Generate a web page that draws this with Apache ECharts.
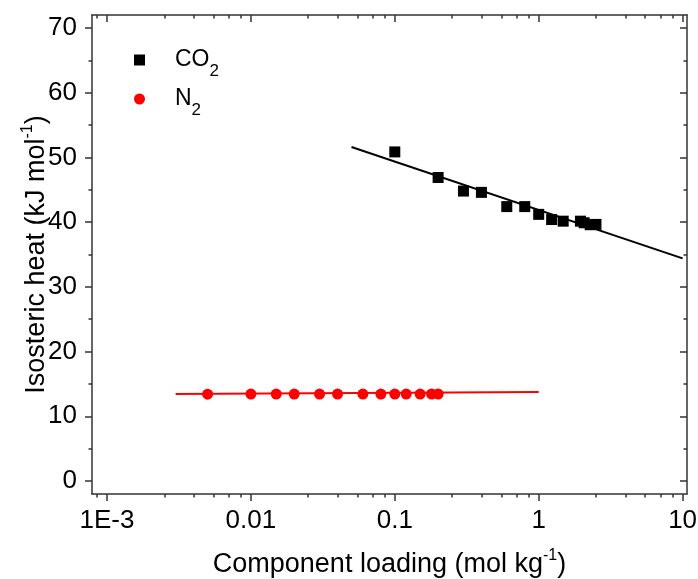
<!DOCTYPE html>
<html><head><meta charset="utf-8">
<script src="https://cdn.jsdelivr.net/npm/echarts@6/dist/echarts.min.js"></script>
<style>html,body{margin:0;padding:0;background:#fff}#c{width:698px;height:579px}</style>
</head><body><div id="c"></div>
<script>
// ---- data ----
const co2Loading = [0.1, 0.2, 0.3, 0.4, 0.6, 0.8, 1.0, 1.23, 1.48, 1.95, 2.07, 2.28, 2.5];
const co2Heat    = [50.85, 46.9, 44.8, 44.6, 42.4, 42.4, 41.2, 40.4, 40.15, 40.15, 39.9, 39.6, 39.65];
const n2Loading  = [0.005, 0.01, 0.015, 0.02, 0.03, 0.04, 0.06, 0.08, 0.1, 0.12, 0.15, 0.18, 0.2];
const n2Heat     = [13.42, 13.43, 13.43, 13.43, 13.43, 13.43, 13.43, 13.43, 13.44, 13.44, 13.44, 13.45, 13.45];
const co2FitLoading = [0.05, 10];
const co2FitHeat    = [51.6, 34.4];
const n2FitLoading  = [0.003, 1];
const n2FitHeat     = [13.45, 13.75];

const xTickValues = [0.001, 0.01, 0.1, 1, 10];
const xTickLabels = ['1E-3', '0.01', '0.1', '1', '10'];
const xMinorTicks = [0.00085,
  0.0025, 0.004, 0.0055, 0.007, 0.0085,
  0.025, 0.04, 0.055, 0.07, 0.085,
  0.25, 0.4, 0.55, 0.7, 0.85,
  2.5, 4, 5.5, 7, 8.5];
const yTickValues = [0, 10, 20, 30, 40, 50, 60, 70];
const yMinorTicks = [5, 15, 25, 35, 45, 55, 65];
const xMin = 0.0007866, xMax = 10.73;
const yMin = -2, yMax = 72;

// ---- chart ----
const FONT = 'Liberation Sans';
const lineCol = '#333';
const axLine = { show: true, onZero: false, lineStyle: { color: lineCol, width: 1.5 } };
const noLine = { show: false, onZero: false };
const tickStyle = { color: lineCol, width: 1.5 };

function xLabelFmt(v) {
  const i = xTickValues.findIndex(t => Math.abs(Math.log10(t) - Math.log10(v)) < 1e-6);
  return i >= 0 ? xTickLabels[i] : '';
}

function zip(a, b) { return a.map((v, i) => [v, b[i]]); }

const chart = echarts.init(document.getElementById('c'), null, { renderer: 'canvas' });
const supRich = { p: { fontSize: 16, fontFamily: FONT, color: '#000', verticalAlign: 'top', lineHeight: 34 } };
const subRich = { s: { fontSize: 17, fontFamily: FONT, color: '#000', verticalAlign: 'bottom', lineHeight: 40 } };

const baseX = { type: 'log', logBase: 10, min: xMin, max: xMax, gridIndex: 0,
  splitLine: { show: false }, minorTick: { show: false }, minorSplitLine: { show: false } };
const baseY = { type: 'value', min: yMin, max: yMax, gridIndex: 0,
  splitLine: { show: false }, minorTick: { show: false } };

chart.setOption({
  animation: false,
  backgroundColor: '#fff',
  grid: { left: 92, right: 11, top: 15, bottom: 85, containLabel: false, outerBoundsMode: 'none' },
  legend: {
    orient: 'vertical', left: 134, top: 40, padding: 0, itemWidth: 11, itemHeight: 11, itemGap: -1,
    data: [{ name: 'CO2', icon: 'rect' }, { name: 'N2', icon: 'circle' }],
    formatter: n => n === 'CO2' ? 'CO{s|2}' : 'N{s|2}',
    textStyle: { fontSize: 23, fontFamily: FONT, color: '#000', lineHeight: 24, padding: [0, 0, 0, 25], rich: subRich },
    selectedMode: false
  },
  xAxis: [
    Object.assign({}, baseX, { position: 'bottom', axisLine: axLine,
      axisTick: { show: true, inside: false, length: 7, customValues: xTickValues, lineStyle: tickStyle },
      axisLabel: { show: true, customValues: xTickValues, formatter: xLabelFmt, fontSize: 26, fontFamily: FONT, color: '#000', margin: 14 },
      name: 'Component loading (mol kg{p|-1})', nameLocation: 'middle', nameGap: 54, nameMoveOverlap: false,
      nameTextStyle: { fontSize: 27, fontFamily: FONT, color: '#000', lineHeight: 27, rich: supRich } }),
    Object.assign({}, baseX, { position: 'bottom', axisLine: noLine,
      axisTick: { show: true, inside: false, length: 3.5, customValues: xMinorTicks, lineStyle: tickStyle },
      axisLabel: { show: false } }),
    Object.assign({}, baseX, { position: 'top', axisLine: axLine,
      axisTick: { show: true, inside: true, length: 7, customValues: xTickValues, lineStyle: tickStyle },
      axisLabel: { show: false } }),
    Object.assign({}, baseX, { position: 'top', axisLine: noLine,
      axisTick: { show: true, inside: true, length: 3.5, customValues: xMinorTicks, lineStyle: tickStyle },
      axisLabel: { show: false } })
  ],
  yAxis: [
    Object.assign({}, baseY, { position: 'left', axisLine: axLine,
      axisTick: { show: true, inside: false, length: 7, customValues: yTickValues, lineStyle: tickStyle },
      axisLabel: { show: true, customValues: yTickValues, fontSize: 26, fontFamily: FONT, color: '#000', margin: 15 },
      name: 'Isosteric heat (kJ mol{p|-1})', nameLocation: 'middle', nameGap: 38, nameRotate: 90, nameMoveOverlap: false,
      nameTextStyle: { fontSize: 27, fontFamily: FONT, color: '#000', lineHeight: 27, rich: supRich } }),
    Object.assign({}, baseY, { position: 'left', axisLine: noLine,
      axisTick: { show: true, inside: false, length: 3.5, customValues: yMinorTicks, lineStyle: tickStyle },
      axisLabel: { show: false } }),
    Object.assign({}, baseY, { position: 'right', axisLine: axLine,
      axisTick: { show: true, inside: true, length: 7, customValues: yTickValues, lineStyle: tickStyle },
      axisLabel: { show: false } }),
    Object.assign({}, baseY, { position: 'right', axisLine: noLine,
      axisTick: { show: true, inside: true, length: 3.5, customValues: yMinorTicks, lineStyle: tickStyle },
      axisLabel: { show: false } })
  ],
  series: [
    { name: 'CO2 fit', type: 'line', xAxisIndex: 0, yAxisIndex: 0, data: zip(co2FitLoading, co2FitHeat),
      showSymbol: false, symbol: 'none', lineStyle: { color: '#000', width: 2 }, itemStyle: { color: '#000' }, silent: true, z: 2 },
    { name: 'N2 fit', type: 'line', xAxisIndex: 0, yAxisIndex: 0, data: zip(n2FitLoading, n2FitHeat),
      showSymbol: false, symbol: 'none', lineStyle: { color: '#ff0000', width: 2 }, itemStyle: { color: '#ff0000' }, silent: true, z: 2 },
    { name: 'CO2', type: 'scatter', xAxisIndex: 0, yAxisIndex: 0, data: zip(co2Loading, co2Heat),
      symbol: 'rect', symbolSize: 11, itemStyle: { color: '#000', opacity: 1 }, z: 3 },
    { name: 'N2', type: 'scatter', xAxisIndex: 0, yAxisIndex: 0, data: zip(n2Loading, n2Heat),
      symbol: 'circle', symbolSize: 11, itemStyle: { color: '#ff0000', opacity: 1 }, z: 3 }
  ]
});
</script>
</body></html>
